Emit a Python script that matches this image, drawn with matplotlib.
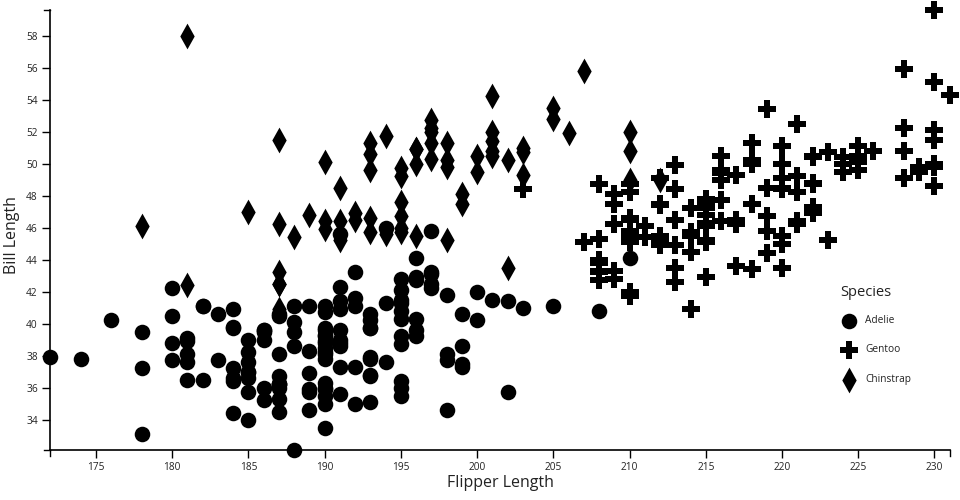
"""
Penguins: bill length vs flipper length, one marker shape per species
"""

import numpy as np
import matplotlib.pyplot as plt
from matplotlib.path import Path
from matplotlib.lines import Line2D

plt.rcParams["font.family"] = ["Open Sans", "DejaVu Sans"]

# ---------------------------------------------------------------------------
# Data (flipper length mm, bill length mm)
# ---------------------------------------------------------------------------
adelie_flipper = [
    181, 186, 195, 193, 190, 181, 195, 182, 191, 198, 185,
    195, 197, 184, 194, 174, 180, 189, 185, 180, 187, 183, 187, 172, 180, 178,
    178, 188, 184, 195, 196, 190, 180, 181, 184, 182, 195, 186, 196, 185, 190,
    182, 190, 191, 186, 188, 190, 200, 187, 191, 186, 193, 181, 194, 185,
    195, 185, 192, 184, 192, 195, 188, 190, 198, 190, 190, 196, 197, 190, 195,
    191, 184, 187, 195, 189, 196, 187, 193, 191, 194, 190, 189, 189, 190, 202,
    205, 185, 186, 187, 208, 190, 196, 178, 192, 192, 203, 183, 190, 193, 184,
    199, 190, 181, 197, 198, 191, 193, 197, 191, 196, 188, 199, 189, 189, 187,
    198, 176, 202, 186, 199, 191, 195, 191, 210, 190, 197, 193, 199, 187, 190,
    191, 200, 185, 193, 193, 187, 188, 190, 192, 185, 190, 184, 195, 193, 187,
    201,
]
adelie_bill = [
    39.1, 39.5, 40.3, 36.7, 39.3, 38.9, 39.2, 41.1, 38.6, 34.6, 36.6,
    38.7, 42.5, 34.4, 46.0, 37.8, 37.7, 35.9, 38.2, 38.8, 35.3, 40.6, 40.5, 37.9, 40.5, 39.5,
    37.2, 39.5, 40.9, 36.4, 39.2, 38.8, 42.2, 37.6, 39.8, 36.5, 40.8, 36.0, 44.1, 37.0, 39.6,
    41.1, 36.0, 42.3, 39.6, 40.1, 35.0, 42.0, 34.5, 41.4, 39.0, 40.6, 36.5, 37.6, 35.7,
    41.3, 37.6, 41.1, 36.4, 41.6, 35.5, 41.1, 35.9, 41.8, 33.5, 39.7, 39.6, 45.8, 35.5, 42.8,
    40.9, 37.2, 36.2, 42.1, 34.6, 42.9, 36.7, 35.1, 37.3, 41.3, 36.3, 36.9, 38.3, 38.9, 35.7,
    41.1, 34.0, 39.6, 36.2, 40.8, 38.1, 40.3, 33.1, 43.2, 35.0, 41.0, 37.7, 37.8, 37.9, 39.7,
    38.6, 38.2, 38.1, 43.2, 38.1, 45.6, 39.7, 42.2, 39.6, 42.7, 38.6, 37.3, 35.7, 41.1, 36.2,
    37.7, 40.2, 41.4, 35.2, 40.6, 38.8, 41.5, 39.0, 44.1, 38.5, 43.1, 36.8, 37.5, 38.1, 41.1,
    35.6, 40.2, 37.0, 39.7, 40.2, 40.6, 32.1, 40.7, 37.3, 39.0, 39.2, 36.6, 36.0, 37.8, 36.0,
    41.5,
]

gentoo_flipper = [
    211, 230, 210, 218, 215, 210, 211, 219, 209, 215, 214, 216, 214, 213, 210,
    217, 210, 221, 209, 222, 218, 215, 213, 215, 215, 215, 215, 210, 220,
    222, 209, 207, 230, 220, 220, 213, 219, 208, 208, 208, 225, 210, 216, 222,
    217, 210, 225, 213, 215, 210, 220, 210, 225, 217, 220, 208, 220, 208, 224,
    208, 221, 214, 231, 219, 230, 229, 220, 223, 216, 221, 221, 217, 216,
    230, 209, 220, 215, 223, 212, 221, 212, 224, 212, 228, 218, 218, 212, 230,
    218, 228, 212, 224, 214, 226, 216, 222, 203, 225, 219, 228, 215, 228,
    215, 210, 219, 208, 209, 216, 229, 213, 230, 217, 230, 222, 214, 215,
    222, 212, 213,
]
gentoo_bill = [
    46.1, 50.0, 48.7, 50.0, 47.6, 46.5, 45.4, 46.7, 43.3, 46.8, 40.9, 49.0, 45.5, 48.4, 45.8,
    49.3, 42.0, 49.2, 46.2, 48.7, 50.2, 45.1, 46.5, 46.3, 42.9, 46.1, 47.8, 48.2, 50.0,
    47.3, 42.8, 45.1, 59.6, 49.1, 48.4, 42.6, 44.4, 44.0, 48.7, 42.7, 49.6, 45.3, 49.6, 50.5,
    43.6, 45.5, 50.5, 44.9, 45.2, 46.6, 48.5, 45.1, 50.1, 46.5, 45.0, 43.8, 45.5, 43.2, 50.4,
    45.3, 46.2, 45.7, 54.3, 45.8, 49.8, 49.5, 43.5, 50.7, 47.7, 46.4, 48.2, 46.5, 46.4,
    48.6, 47.5, 51.1, 45.2, 45.2, 49.1, 52.5, 47.4, 50.0, 44.9, 50.8, 43.4, 51.3, 47.5, 52.1,
    47.5, 52.2, 45.5, 49.5, 44.5, 50.8, 49.4, 46.9, 48.4, 51.1, 48.5, 55.9, 47.2, 49.1,
    46.8, 41.7, 53.4, 43.3, 48.1, 50.5, 49.8, 43.5, 51.5, 46.2, 55.1, 48.8, 47.2, 46.8,
    50.4, 45.2, 49.9,
]

chinstrap_flipper = [
    192, 196, 193, 188, 197, 198, 178, 197, 195, 198, 193, 194, 185, 201, 190,
    201, 197, 181, 190, 195, 181, 191, 187, 193, 195, 197, 200, 200, 191, 205,
    187, 201, 187, 203, 195, 199, 195, 210, 192, 205, 210, 187, 196, 196, 196,
    201, 190, 212, 187, 198, 199, 201, 193, 203, 187, 197, 191, 203, 202, 194,
    206, 189, 195, 207, 202, 193, 210, 198,
]
chinstrap_bill = [
    46.5, 50.0, 51.3, 45.4, 52.7, 45.2, 46.1, 51.3, 46.0, 51.3, 46.6, 51.7, 47.0, 52.0, 45.9,
    50.5, 50.3, 58.0, 46.4, 49.2, 42.4, 48.5, 43.2, 50.6, 46.7, 52.0, 50.5, 49.5, 46.4, 52.8,
    40.9, 54.2, 42.5, 51.0, 49.7, 47.5, 47.6, 52.0, 46.9, 53.5, 49.0, 46.2, 50.9, 45.5, 50.9,
    50.8, 50.1, 49.0, 51.5, 49.8, 48.1, 51.4, 45.7, 50.7, 42.5, 52.2, 45.2, 49.3, 50.2, 45.6,
    51.9, 46.8, 45.7, 55.8, 43.5, 49.6, 50.8, 50.2,
]

species = ["Adelie", "Gentoo", "Chinstrap"]

# ---------------------------------------------------------------------------
# Marker shapes: circle, chunky cross, tall diamond
# ---------------------------------------------------------------------------
w = 0.36
cross = Path([(-w, 1), (w, 1), (w, w), (1, w), (1, -w), (w, -w), (w, -1),
              (-w, -1), (-w, -w), (-1, -w), (-1, w), (-w, w), (-w, 1)],
             closed=True)
diamond = Path([(0, 1), (0.56, 0), (0, -1), (-0.56, 0), (0, 1)], closed=True)

styles = {
    "Adelie": dict(marker="o", size=11.2),
    "Gentoo": dict(marker=cross, size=13.6),
    "Chinstrap": dict(marker=diamond, size=18.5),
}
data = {
    "Adelie": (adelie_flipper, adelie_bill),
    "Gentoo": (gentoo_flipper, gentoo_bill),
    "Chinstrap": (chinstrap_flipper, chinstrap_bill),
}

fig = plt.figure(figsize=(9.6, 5), dpi=100)
ax = fig.add_axes([50.3 / 960, 0.1, (949.7 - 50.3) / 960, 0.88])

for name in species:
    fx, by = data[name]
    st = styles[name]
    ax.scatter(fx, by, marker=st["marker"], s=st["size"] ** 2,
               color="black", linewidths=0, clip_on=False)

all_f = adelie_flipper + gentoo_flipper + chinstrap_flipper
all_b = adelie_bill + gentoo_bill + chinstrap_bill
ax.set_xlim(min(all_f), max(all_f))
ax.set_ylim(min(all_b), max(all_b))

ax.set_xticks(np.arange(175, 231, 5))
ax.set_yticks(np.arange(34, 59, 2))
# d3-style outer ticks at the domain ends
for x_end in ax.get_xlim():
    ax.plot([x_end, x_end], [0, -0.013], transform=ax.get_xaxis_transform(),
            color="black", lw=1, clip_on=False)
for y_end in ax.get_ylim():
    ax.plot([0, -0.0066], [y_end, y_end], transform=ax.get_yaxis_transform(),
            color="black", lw=1, clip_on=False)

ax.tick_params(axis="both", length=6, width=1, labelsize=7.3, pad=3,
               labelcolor="#222222")
for side in ["top", "right"]:
    ax.spines[side].set_visible(False)
for side in ["left", "bottom"]:
    ax.spines[side].set_linewidth(1.2)

fig.text(500 / 960, 1 - 483 / 500, "Flipper Length", ha="center", va="center",
         fontsize=11.5, color="#222222")
fig.text(12.5 / 960, 1 - 235 / 500, "Bill Length", ha="center", va="center",
         rotation=90, fontsize=11.5, color="#222222")

# legend drawn by hand
fig.text(840.5 / 960, 1 - 292 / 500, "Species", ha="left", va="center",
         fontsize=10.5, color="#222222")
legend_y = [320.5, 350, 379.5]
for name, ly in zip(species, legend_y):
    st = styles[name]
    fig.add_artist(Line2D([849.3 / 960], [1 - ly / 500], marker=st["marker"],
                          markersize=st["size"], color="black", lw=0,
                          markeredgewidth=0, transform=fig.transFigure))
    fig.text(865 / 960, 1 - ly / 500, name, ha="left", va="center",
             fontsize=7.3, color="#222222")

fig.savefig("out.png", dpi=100)
